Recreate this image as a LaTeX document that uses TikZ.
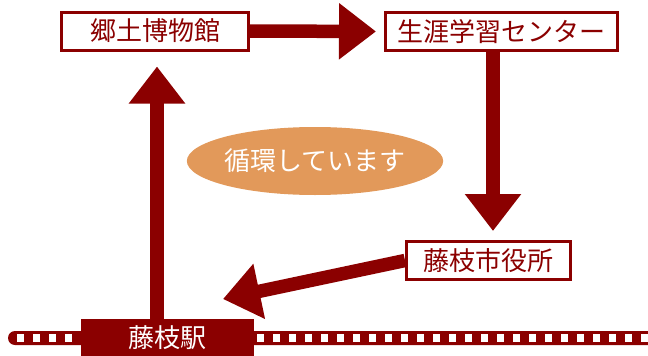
\documentclass[tikz,border=0pt]{standalone}
\usepackage{fontspec}
\newfontfamily\jp{Noto Sans CJK JP}
\usetikzlibrary{arrows.meta,shapes.geometric}
\definecolor{dred}{HTML}{8B0000}
\definecolor{orng}{HTML}{E2995A}
\tikzset{
  place/.style={draw=dred,line width=3pt,fill=white,text=dred,inner sep=0pt,
    minimum height=38pt,font=\jp\fontsize{26}{26}\selectfont},
  flow/.style={draw=dred,line width=13.5pt,
    -{Triangle[length=37pt,width=54pt]}},
  sq/.style={fill=white}
}
\begin{document}
\begin{tikzpicture}[x=1pt,y=-1pt]
\useasboundingbox (0,0) rectangle (648,356);
% rail
\fill[dred,rounded corners=7pt] (8,331) rectangle (660,345);
\foreach \k in {0,...,39}{
  \fill[white] ({16.5+16*\k},334) rectangle ({23.5+16*\k},342);
}
\node[place,minimum width=187pt] (b1) at (155,31) {郷土博物館};
\node[place,minimum width=232pt] (b2) at (501.5,31.5) {生涯学習センター};
\node[place,minimum width=164pt] (b3) at (488.5,260.5) {藤枝市役所};
\node[fill=dred,text=white,inner sep=0pt,minimum width=173pt,minimum height=37pt,
  font=\jp\fontsize{26}{26}\selectfont] (st) at (167.5,337.5) {藤枝駅};
\node[ellipse,fill=orng,text=white,inner sep=0pt,minimum width=254pt,minimum height=68pt,
  font=\jp\fontsize{26}{26}\selectfont] (loop) at (315,161) {循環しています};
\coordinate (t) at (223,299);
\draw[flow,shorten >=8pt] (b1.east) -- (b2.west);
\draw[flow,shorten >=9pt] ([xshift=-8.5pt]b2.south) -- ([xshift=-8.5pt]b2.south |- b3.north);
\draw[flow] (b3.west) -- (t);
\draw[flow,shorten >=15pt] ([xshift=2pt]b1.south |- st.north) -- ([xshift=2pt]b1.south);
\end{tikzpicture}
\end{document}
